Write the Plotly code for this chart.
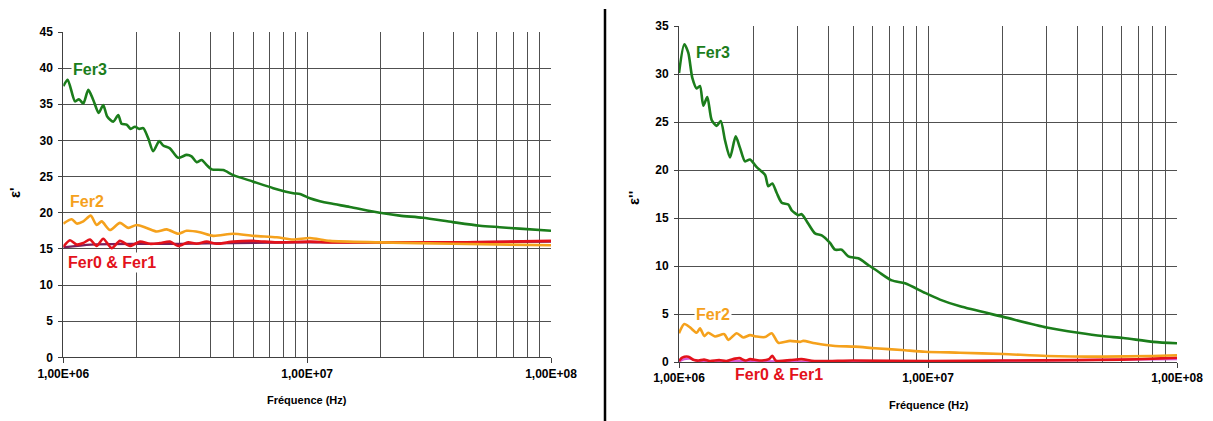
import plotly.graph_objects as go

W, H = 1213, 421

# ---------------- Left chart : epsilon' ----------------
l_fer3_f = [1.00e6, 1.042e6, 1.117e6, 1.159e6, 1.208e6, 1.266e6, 1.327e6, 1.397e6, 1.458e6, 1.514e6,
            1.602e6, 1.680e6, 1.734e6, 1.818e6, 1.889e6, 1.967e6, 2.048e6, 2.127e6, 2.230e6, 2.337e6,
            2.473e6, 2.569e6, 2.737e6, 2.959e6, 3.203e6, 3.357e6, 3.521e6, 3.692e6, 3.871e6, 4.057e6,
            4.527e6, 4.977e6, 6.010e6, 7.260e6, 8.770e6, 9.340e6, 1.026e7, 1.128e7, 1.239e7, 1.496e7,
            1.985e7, 2.397e7, 2.979e7, 3.954e7, 5.103e7, 6.163e7, 7.433e7, 1.00e8]
l_fer3_v = [37.5, 38.4, 35.4, 35.7, 35.1, 37.0, 35.6, 33.8, 34.9, 33.3,
            32.6, 33.5, 32.3, 32.2, 31.6, 31.9, 31.6, 31.7, 30.3, 28.5,
            29.9, 29.3, 28.9, 27.6, 28.0, 27.8, 27.0, 27.3, 26.6, 26.0,
            25.9, 25.2, 24.3, 23.4, 22.7, 22.6, 22.0, 21.6, 21.3, 20.8,
            20.0, 19.6, 19.3, 18.7, 18.2, 18.0, 17.8, 17.5]

l_fer2_f = [1.00e6, 1.083e6, 1.135e6, 1.208e6, 1.295e6, 1.370e6, 1.437e6, 1.553e6, 1.707e6, 1.846e6,
            1.998e6, 2.197e6, 2.415e6, 2.655e6, 2.959e6, 3.203e6, 3.630e6, 4.118e6, 4.977e6, 6.010e6,
            7.500e6, 8.770e6, 1.026e7, 1.239e7, 1.985e7, 3.954e7, 1.00e8]
l_fer2_v = [18.5, 19.1, 18.5, 18.8, 19.6, 18.3, 18.8, 17.6, 18.6, 17.9,
            18.3, 17.9, 17.4, 17.7, 17.1, 17.5, 17.3, 16.8, 17.1, 16.8,
            16.6, 16.3, 16.5, 16.1, 15.9, 15.7, 15.5]

l_fer0_f = [1.00e6, 1.065e6, 1.135e6, 1.208e6, 1.286e6, 1.370e6, 1.458e6, 1.579e6, 1.707e6, 1.876e6,
            2.062e6, 2.266e6, 2.490e6, 2.737e6, 2.959e6, 3.250e6, 3.521e6, 3.871e6, 4.254e6, 4.977e6,
            6.010e6, 7.500e6, 1.026e7, 1.239e7, 2.397e7, 4.500e7, 1.00e8]
l_fer0_v = [15.3, 16.2, 15.6, 15.8, 16.3, 15.4, 16.4, 15.1, 16.1, 15.4,
            16.0, 15.7, 15.8, 16.0, 15.4, 15.9, 15.7, 16.0, 15.7, 16.0,
            16.1, 15.9, 16.0, 15.9, 15.9, 15.9, 16.1]

l_fer1_f = [1.00e6, 1.3e6, 2.0e6, 3.0e6, 5.0e6, 1.0e7, 3.0e7, 1.0e8]
l_fer1_v = [15.2, 15.6, 15.7, 15.7, 15.8, 15.9, 15.9, 16.0]

# ---------------- Right chart : epsilon'' ----------------
r_fer3_f = [1.000e6, 1.050e6, 1.090e6, 1.131e6, 1.178e6, 1.214e6, 1.252e6, 1.299e6, 1.353e6, 1.417e6,
            1.471e6, 1.530e6, 1.603e6, 1.689e6, 1.758e6, 1.841e6, 1.928e6, 2.051e6, 2.215e6, 2.284e6,
            2.370e6, 2.469e6, 2.585e6, 2.748e6, 2.836e6, 3.014e6, 3.110e6, 3.306e6, 3.517e6, 3.742e6,
            4.041e6, 4.232e6, 4.502e6, 4.786e6, 5.250e6, 5.757e6, 6.316e6, 7.149e6, 8.085e6, 9.727e6,
            1.117e7, 1.345e7, 2.006e7, 2.998e7, 4.014e7, 5.030e7, 6.085e7, 8.031e7, 1.00e8]
r_fer3_v = [30.1, 33.1, 32.2, 29.6, 28.5, 28.75, 26.7, 27.6, 25.2, 24.6,
            25.1, 23.1, 21.3, 23.5, 22.3, 20.9, 21.1, 20.3, 19.5, 18.3,
            18.6, 17.6, 16.6, 16.4, 15.8, 15.3, 15.4, 14.4, 13.4, 13.2,
            12.4, 11.7, 11.7, 11.0, 10.8, 10.1, 9.4, 8.5, 8.2, 7.2,
            6.5, 5.8, 4.7, 3.6, 3.05, 2.7, 2.5, 2.1, 1.95]

r_fer2_f = [1.000e6, 1.050e6, 1.107e6, 1.178e6, 1.214e6, 1.264e6, 1.311e6, 1.395e6, 1.520e6, 1.578e6,
            1.705e6, 1.813e6, 1.928e6, 2.051e6, 2.215e6, 2.357e6, 2.505e6, 2.792e6, 3.061e6, 3.156e6,
            3.517e6, 4.232e6, 5.091e6, 6.126e6, 7.841e6, 9.727e6, 1.345e7, 2.001e7, 2.998e7, 5.030e7,
            8.000e7, 1.00e8]
r_fer2_v = [3.0, 3.95, 3.6, 3.05, 3.5, 2.7, 3.05, 2.65, 2.9, 2.3,
            3.0, 2.55, 2.8, 2.65, 2.6, 3.0, 2.0, 2.2, 2.1, 2.2,
            1.95, 1.67, 1.6, 1.43, 1.25, 1.07, 0.97, 0.83, 0.63, 0.56,
            0.63, 0.7]

r_fer0_f = [1.00e6, 1.03e6, 1.09e6, 1.15e6, 1.20e6, 1.26e6, 1.33e6, 1.45e6, 1.55e6, 1.68e6,
            1.75e6, 1.85e6, 1.93e6, 2.10e6, 2.30e6, 2.37e6, 2.45e6, 2.80e6, 3.10e6, 3.50e6,
            5.0e6, 1.0e7, 2.0e7, 4.0e7, 6.0e7, 8.0e7, 1.0e8]
r_fer0_v = [0.1, 0.45, 0.55, 0.2, 0.15, 0.25, 0.1, 0.2, 0.1, 0.35,
            0.4, 0.15, 0.3, 0.15, 0.3, 0.65, 0.15, 0.2, 0.3, 0.1,
            0.15, 0.1, 0.15, 0.2, 0.25, 0.35, 0.45]

r_fer1_f = [1.00e6, 1.05e6, 1.10e6, 1.20e6, 1.50e6, 2.0e6, 3.0e6, 1.0e7, 1.0e8]
r_fer1_v = [0.05, 0.3, 0.35, 0.1, 0.1, 0.1, 0.05, 0.05, 0.3]

x_tickvals = [1e6, 1e7, 1e8]
x_ticktext = ["1,00E+06", "1,00E+07", "1,00E+08"]
x_minor = [2e6, 3e6, 4e6, 5e6, 6e6, 7e6, 8e6, 9e6, 2e7, 3e7, 4e7, 5e7, 6e7, 7e7, 8e7, 9e7]
left_yticks = [0, 5, 10, 15, 20, 25, 30, 35, 40, 45]
right_yticks = [0, 5, 10, 15, 20, 25, 30, 35]

GREEN = "#1b7d1b"
ORANGE = "#f5a11c"
RED = "#e3121b"
GRID = "#505050"
FONT = "Liberation Sans, Arial, sans-serif"


def pxx(x):
    return x / W


def pxy(y):
    return 1 - y / H


fig = go.Figure()
lw = 2.6

def add(fx, fy, color, xa, ya, width=lw):
    fig.add_trace(go.Scatter(x=fx, y=fy, mode="lines", xaxis=xa, yaxis=ya,
                             line=dict(color=color, width=width, shape="spline", smoothing=0.7),
                             showlegend=False, hoverinfo="skip"))

add(l_fer1_f, l_fer1_v, "#7a1f5c", "x", "y", 2.2)
add(l_fer0_f, l_fer0_v, RED, "x", "y")
add(l_fer2_f, l_fer2_v, ORANGE, "x", "y")
add(l_fer3_f, l_fer3_v, GREEN, "x", "y")
add(r_fer1_f, r_fer1_v, "#d65ad6", "x2", "y2", 2.2)
add(r_fer0_f, r_fer0_v, RED, "x2", "y2")
add(r_fer2_f, r_fer2_v, ORANGE, "x2", "y2")
add(r_fer3_f, r_fer3_v, GREEN, "x2", "y2")

tickfont = dict(family=FONT, size=12, color="black", weight="bold")

def xaxis(dom):
    return dict(type="log", range=[6, 8], domain=dom, tickmode="array",
                tickvals=x_tickvals, ticktext=x_ticktext, tickfont=tickfont,
                ticks="outside", ticklen=5, tickcolor="#404040", tickwidth=1,
                showline=True, linecolor="#404040", linewidth=1,
                showgrid=True, gridcolor=GRID, gridwidth=1, zeroline=False,
                minor=dict(tickmode="array", tickvals=x_minor, showgrid=True,
                           gridcolor=GRID, gridwidth=1, ticks=""),
                automargin=False, fixedrange=True)

def yaxis(dom, rng, vals, anchor):
    return dict(range=rng, domain=dom, tickmode="array", tickvals=vals,
                tickfont=tickfont, ticks="outside", ticklen=4, tickcolor="#404040",
                showline=True, linecolor="#404040", linewidth=1,
                showgrid=True, gridcolor=GRID, gridwidth=1, zeroline=False,
                anchor=anchor, ticklabelstandoff=3, automargin=False, fixedrange=True)

fig.update_layout(
    template="none",
    width=W, height=H, margin=dict(l=0, r=0, t=0, b=0, pad=0),
    paper_bgcolor="white", plot_bgcolor="white",
    xaxis=dict(xaxis([pxx(63.3), pxx(551)]), anchor="y"),
    yaxis=yaxis([pxy(357.3), pxy(32)], [0, 45], left_yticks, "x"),
    xaxis2=dict(xaxis([pxx(679), pxx(1177)]), anchor="y2"),
    yaxis2=yaxis([pxy(362), pxy(26)], [0, 35], right_yticks, "x2"),
    font=dict(family=FONT, color="black"),
)

def label(text, x, y, color, size=16, angle=0, bg=None):
    fig.add_annotation(text="<b>%s</b>" % text, x=pxx(x), y=pxy(y), xref="paper", yref="paper",
                       showarrow=False, xanchor="center", yanchor="middle", textangle=angle,
                       font=dict(family=FONT, size=size, color=color),
                       bgcolor=bg, borderpad=1)

# series labels
label("Fer3", 90, 69, GREEN, bg="white")
label("Fer2", 86.5, 201, ORANGE, bg="white")
label("Fer0 &amp; Fer1", 112.5, 262, RED, bg="white")
label("Fer3", 713, 53, GREEN, bg="white")
label("Fer2", 712.5, 314, ORANGE, bg="white")
label("Fer0 &amp; Fer1", 778.5, 374, RED, bg="white")

# axis titles
label("Fréquence (Hz)", 307, 400, "black", size=11)
label("Fréquence (Hz)", 929, 405, "black", size=11)
label("ε'", 14, 193, "black", size=15, angle=-90)
label("ε''", 633, 198, "black", size=15, angle=-90)

# divider
fig.add_shape(type="line", xref="paper", yref="paper", x0=pxx(605), x1=pxx(605),
              y0=pxy(9), y1=pxy(421), line=dict(color="black", width=2.5))

fig.write_html("out.html", config={"displayModeBar": False},
               post_script="document.body.style.margin='0';document.body.style.overflow='hidden';")
